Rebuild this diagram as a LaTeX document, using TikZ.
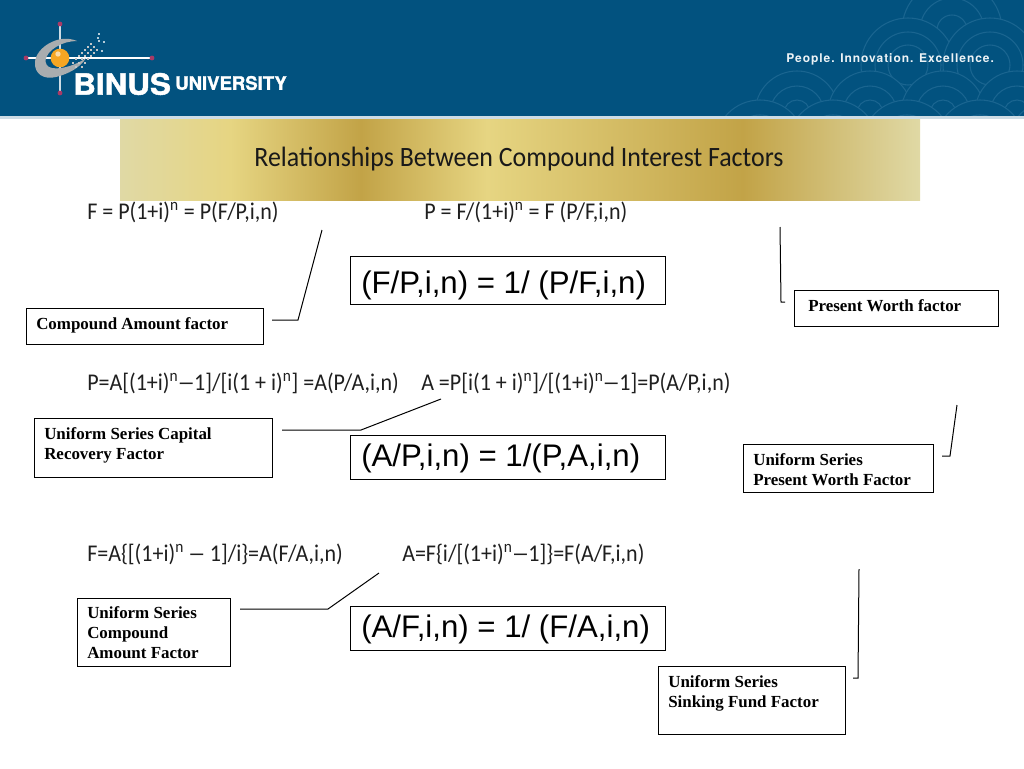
\documentclass[tikz,border=0pt]{standalone}
\usepackage{fontspec}
\setmainfont{Carlito}
\newfontfamily\serifb{Liberation Serif}[Ligatures=TeX]
\newfontfamily\arialf{Liberation Sans}
\newfontfamily\logob{TeX Gyre Heros}[BoldFeatures={FakeBold=1.5}]
\newfontfamily\tagf{TeX Gyre Heros}[LetterSpace=8]
\definecolor{bluehead}{HTML}{02527F}
\definecolor{arcblue}{HTML}{1A6590}
\definecolor{goldd}{HTML}{C2A347}
\definecolor{goldl}{HTML}{E0D9A5}
\definecolor{goldm}{HTML}{E6D582}
\definecolor{pinkd}{HTML}{A83A66}
\definecolor{orb}{HTML}{F5A623}
\definecolor{ringg}{HTML}{A9ADAF}
\tikzset{
 x=0.75pt,y=-0.75pt,
 namebox/.style={draw=black,line width=0.75pt,inner sep=0pt,anchor=north west},
 nametext/.style={anchor=north west,inner sep=0pt,align=left,font=\serifb\bfseries\fontsize{12.7pt}{15pt}\selectfont},
 relbox/.style={draw=black,line width=0.75pt,inner sep=0pt,anchor=north west},
 reltext/.style={anchor=west,inner sep=0pt,font=\arialf\fontsize{23.4pt}{24pt}\selectfont},
 formula/.style={anchor=west,inner sep=0pt,font=\fontsize{18pt}{20pt}\selectfont,text=black!88},
 leader/.style={draw=black,line width=0.75pt},
 arcp/.style={draw=arcblue,fill=bluehead,line width=0.8pt},
}
\newcommand{\sq}[1]{\textsuperscript{#1}}
\newcommand{\ldash}{\scalebox{.8}[1]{—}}
\newcommand{\cond}[1]{\scalebox{.917}[1]{#1}}
\newcommand{\scales}[3]{\foreach \r in {#3} {\filldraw[arcp] (#1,#2) circle[radius=\r*0.75pt];}}
\begin{document}
\begin{tikzpicture}
\useasboundingbox (0,0) rectangle (1024,768);
\fill[white] (0,0) rectangle (1024,768);
% header
\fill[bluehead] (0,0) rectangle (1024,116);
\begin{scope}
\clip (0,0) rectangle (1024,116);
\scales{952}{30}{50,32,15}
\scales{908}{65}{47,33,20}
\scales{990}{65}{47,33,20}
\scales{797}{113}{42,27,13}
\scales{870}{113}{42,27,13}
\scales{943}{113}{42,27,13}
\scales{1017}{113}{42,27,13}
\scales{760}{145}{45,30}
\scales{833}{145}{45,30}
\scales{907}{145}{45,30}
\scales{980}{145}{45,30}
\scales{1053}{145}{45,30}
\end{scope}
\fill[white!80!bluehead] (0,116) rectangle (1024,119);
% logo
\draw[white!80!bluehead,line width=1pt] (60,24) -- (60,93);
\draw[white,line width=1pt] (26,58) -- (152,58);
\foreach \p in {(60,24),(60,93),(26,58),(152,58)} \fill[pinkd] \p circle[radius=1.8pt];
\fill[ringg] (77,41) .. controls (58,33) and (36,48) .. (35,62) .. controls (34,74) and (44,80) .. (56,77) .. controls (68,74) and (80,68) .. (86,58) .. controls (78,64) and (62,70) .. (52,68) .. controls (42,66) and (44,54) .. (56,47) .. controls (62,43) and (70,41) .. (77,41) -- cycle;
\fill[orb] (60,58) circle[radius=7pt];
\fill[white!60!orb] (58,54) circle[radius=2pt];
\foreach \x/\y in {90/43,87/46,93/46,84/49,90/49,96/49,81/52,87/52,93/52,78/55,84/55,90/55,75/58,81/58,87/58,72/62,78/62,84/62,75/66,81/66}
  \fill[ringg!70!white] (\x,\y) rectangle ++(2.4,2.4);
\foreach \p in {(97,37),(98,40),(98,33),(103,41),(101,50)} \fill[white!70!bluehead] \p rectangle ++(2,2);
\node[inner sep=0pt,anchor=west,text=white] (binus) at (73,84) {\scalebox{1.07}[1]{\logob\bfseries\fontsize{22pt}{25pt}\selectfont BINUS}};
\node[inner sep=0pt,anchor=west,text=white] (univ) at (175,83) {\logob\bfseries\fontsize{13.9pt}{14pt}\selectfont UNIVERSITY};
\node[inner sep=0pt,anchor=west,text=white!93!bluehead] (tagline) at (786,59) {\tagf\bfseries\fontsize{9pt}{10pt}\selectfont People. Innovation. Excellence.};
% title band
\fill[left color=goldl,right color=goldm] (120,119) rectangle (230,200.5);
\fill[left color=goldm,right color=goldd] (230,119) rectangle (361,200.5);
\fill[left color=goldd,right color=goldm] (361,119) rectangle (487,200.5);
\fill[left color=goldm,right color=goldd] (487,119) rectangle (743,200.5);
\fill[left color=goldd,right color=goldl] (743,119) rectangle (920,200.5);
\node[inner sep=0pt,text=black!90] (title) at (519,159.5) {\scalebox{.925}[1]{\fontsize{21pt}{24pt}\selectfont Relationships Between Compound Interest Factors}};
% formulas
\node[formula] (f1) at (87,212) {\cond{F = P(1+i)\sq{n} = P(F/P,i,n)}};
\node[formula] (f2) at (424,212) {\cond{P = F/(1+i)\sq{n} = F (P/F,i,n)}};
\node[formula] (f3) at (87,383) {\cond{P=A[(1+i)\sq{n}\ldash 1]/[i(1 + i)\sq{n}] =A(P/A,i,n)}};
\node[formula] (f4) at (421,383) {\cond{A =P[i(1 + i)\sq{n}]/[(1+i)\sq{n}\ldash 1]=P(A/P,i,n)}};
\node[formula] (f5) at (87,554) {\cond{F=A\{[(1+i)\sq{n} \ldash{} 1]/i\}=A(F/A,i,n)}};
\node[formula] (f6) at (402,554) {\cond{A=F\{i/[(1+i)\sq{n}\ldash 1]\}=F(A/F,i,n)}};
% relation boxes
\node[relbox,minimum width=315*.75pt,minimum height=48.5*.75pt] (r1) at (349.5,255.5) {};
\node[reltext] (rt1) at (361,285) {(F/P,i,n) = 1/ (P/F,i,n)};
\node[relbox,minimum width=315*.75pt,minimum height=44.5*.75pt] (r2) at (349.5,434.5) {};
\node[reltext] (rt2) at (361,458.5) {(A/P,i,n) = 1/(P,A,i,n)};
\node[relbox,minimum width=315*.75pt,minimum height=44.5*.75pt] (r3) at (349.5,605.5) {};
\node[reltext] (rt3) at (361,629) {(A/F,i,n) = 1/ (F/A,i,n)};
% name boxes
\node[namebox,minimum width=237.5*.75pt,minimum height=36.5*.75pt] (b1) at (25.5,307.5) {};
\node[nametext] (t1) at (36,317) {Compound Amount factor};
\node[namebox,minimum width=204.5*.75pt,minimum height=36.5*.75pt] (b2) at (793.5,289.5) {};
\node[nametext] (t2) at (808,299.5) {Present Worth factor};
\node[namebox,minimum width=238.5*.75pt,minimum height=59*.75pt] (b3) at (33.5,417.5) {};
\node[nametext] (t3) at (44,427.5) {Uniform Series Capital\\Recovery Factor};
\node[namebox,minimum width=190.5*.75pt,minimum height=48*.75pt] (b4) at (742.5,443.5) {};
\node[nametext] (t4) at (753,453.5) {Uniform Series\\Present Worth Factor};
\node[namebox,minimum width=153.5*.75pt,minimum height=68*.75pt] (b5) at (76.5,597.5) {};
\node[nametext] (t5) at (87,606.5) {Uniform Series\\Compound\\Amount Factor};
\node[namebox,minimum width=187*.75pt,minimum height=68*.75pt] (b6) at (657.5,665.5) {};
\node[nametext] (t6) at (668,675.5) {Uniform Series\\Sinking Fund Factor};
% leaders
\coordinate (l1a) at (272,320); \coordinate (l1b) at (298,320); \coordinate (l1c) at (322,230);
\coordinate (l2a) at (785,302); \coordinate (l2b) at (781,302); \coordinate (l2c) at (780,227);
\coordinate (l3a) at (282,430); \coordinate (l3b) at (361,430); \coordinate (l3c) at (441,399);
\coordinate (l4a) at (942,456); \coordinate (l4b) at (950,456); \coordinate (l4c) at (957,405);
\coordinate (l5a) at (240,609); \coordinate (l5b) at (328,609); \coordinate (l5c) at (379,573);
\coordinate (l6a) at (853,678); \coordinate (l6b) at (858,678); \coordinate (l6c) at (859,569);
\draw[leader] (l1a) -- (l1b) -- (l1c);
\draw[leader] (l2a) -- (l2b) -- (l2c);
\draw[leader] (l3a) -- (l3b) -- (l3c);
\draw[leader] (l4a) -- (l4b) -- (l4c);
\draw[leader] (l5a) -- (l5b) -- (l5c);
\draw[leader] (l6a) -- (l6b) -- (l6c);
\end{tikzpicture}
\end{document}
